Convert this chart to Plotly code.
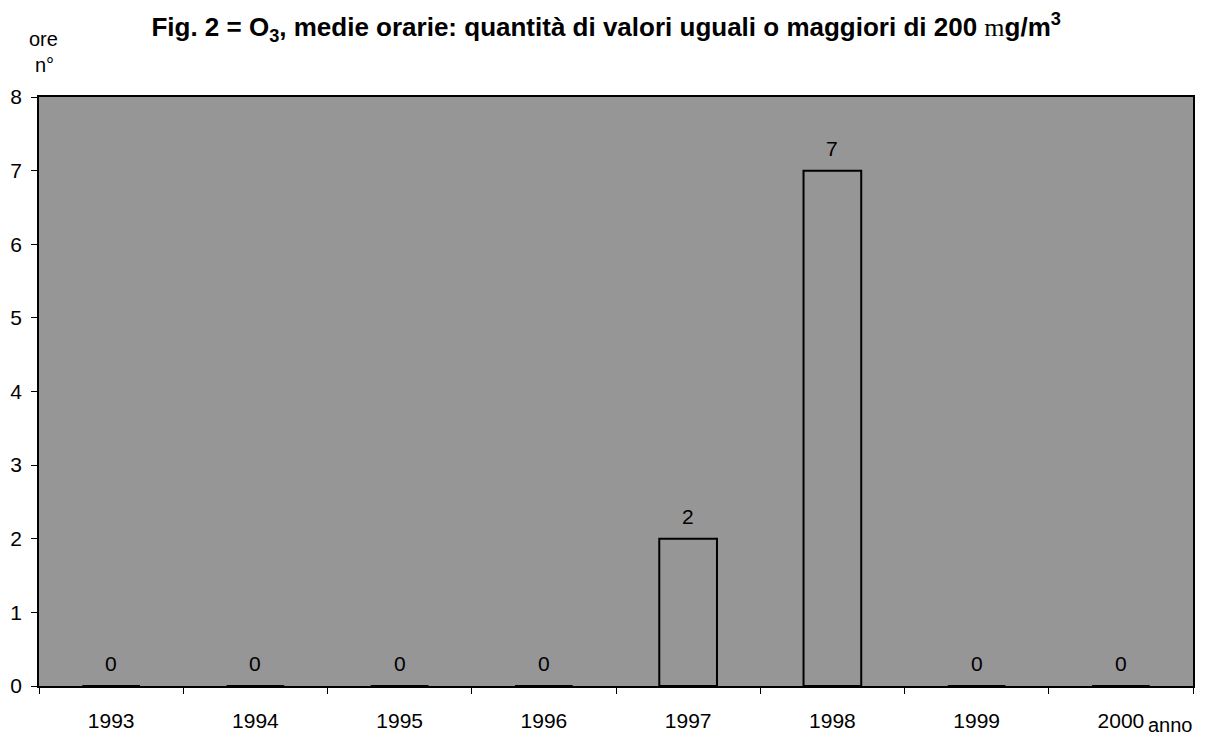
import plotly.graph_objects as go

years = ["1993", "1994", "1995", "1996", "1997", "1998", "1999", "2000"]
hours = [0, 0, 0, 0, 2, 7, 0, 0]
y_ticks = [0, 1, 2, 3, 4, 5, 6, 7, 8]

FONT = "Liberation Sans, Arial, sans-serif"
GRAY = "#969696"

fig = go.Figure(
    go.Bar(
        x=years,
        y=hours,
        width=0.4,
        marker=dict(color=GRAY, line=dict(color="black", width=2)),
        hoverinfo="x+y",
    )
)

# value labels above each bar (category index positions)
for i, v in enumerate(hours):
    fig.add_annotation(
        x=i, y=v, text=str(v), showarrow=False, yanchor="bottom", yshift=9,
        font=dict(family=FONT, size=21, color="black"),
    )

fig.update_layout(
    width=1194,
    height=729,
    margin=dict(l=31, r=9, t=89, b=51),
    paper_bgcolor="white",
    plot_bgcolor=GRAY,
    showlegend=False,
    font=dict(family=FONT, size=21, color="black"),
    title=dict(
        text="<b>Fig. 2 = O<sub>3</sub>, medie orarie: quantità di valori uguali o maggiori di 200 </b>"
             "<span style='font-family:Liberation Serif, Times New Roman, serif'>m</span><b>g/m<sup>3</sup></b>",
        x=0.501,
        xanchor="center",
        y=1 - 19 / 729,
        yanchor="middle",
        font=dict(family=FONT, size=26, color="black"),
    ),
)

fig.update_xaxes(
    type="category",
    categoryorder="array",
    categoryarray=years,
    range=[-0.5, len(years) - 0.5],
    automargin=False,
    tickson="boundaries",
    ticks="outside",
    ticklen=6,
    tickcolor="black",
    showline=True,
    linecolor="black",
    linewidth=1.5,
    mirror=True,
    showgrid=False,
    ticklabelstandoff=15,
    tickfont=dict(family=FONT, size=21),
)

fig.update_yaxes(
    range=[0, 8],
    tickvals=y_ticks,
    automargin=False,
    ticks="outside",
    ticklen=6,
    tickcolor="black",
    showline=True,
    linecolor="black",
    linewidth=1.5,
    mirror=True,
    showgrid=False,
    zeroline=False,
    ticklabelstandoff=5,
    tickfont=dict(family=FONT, size=21),
)

fig.add_annotation(text="ore", xref="paper", yref="paper", x=0.004, y=1.098, xanchor="center",
                   yanchor="middle", showarrow=False, font=dict(family=FONT, size=20))
fig.add_annotation(text="n°", xref="paper", yref="paper", x=0.005, y=1.054, xanchor="center",
                   yanchor="middle", showarrow=False, font=dict(family=FONT, size=20))
fig.add_annotation(text="anno", xref="paper", yref="paper", x=0.9589, y=-0.0664, xanchor="left",
                   yanchor="middle", showarrow=False, font=dict(family=FONT, size=20))

fig.write_html("out.html")
